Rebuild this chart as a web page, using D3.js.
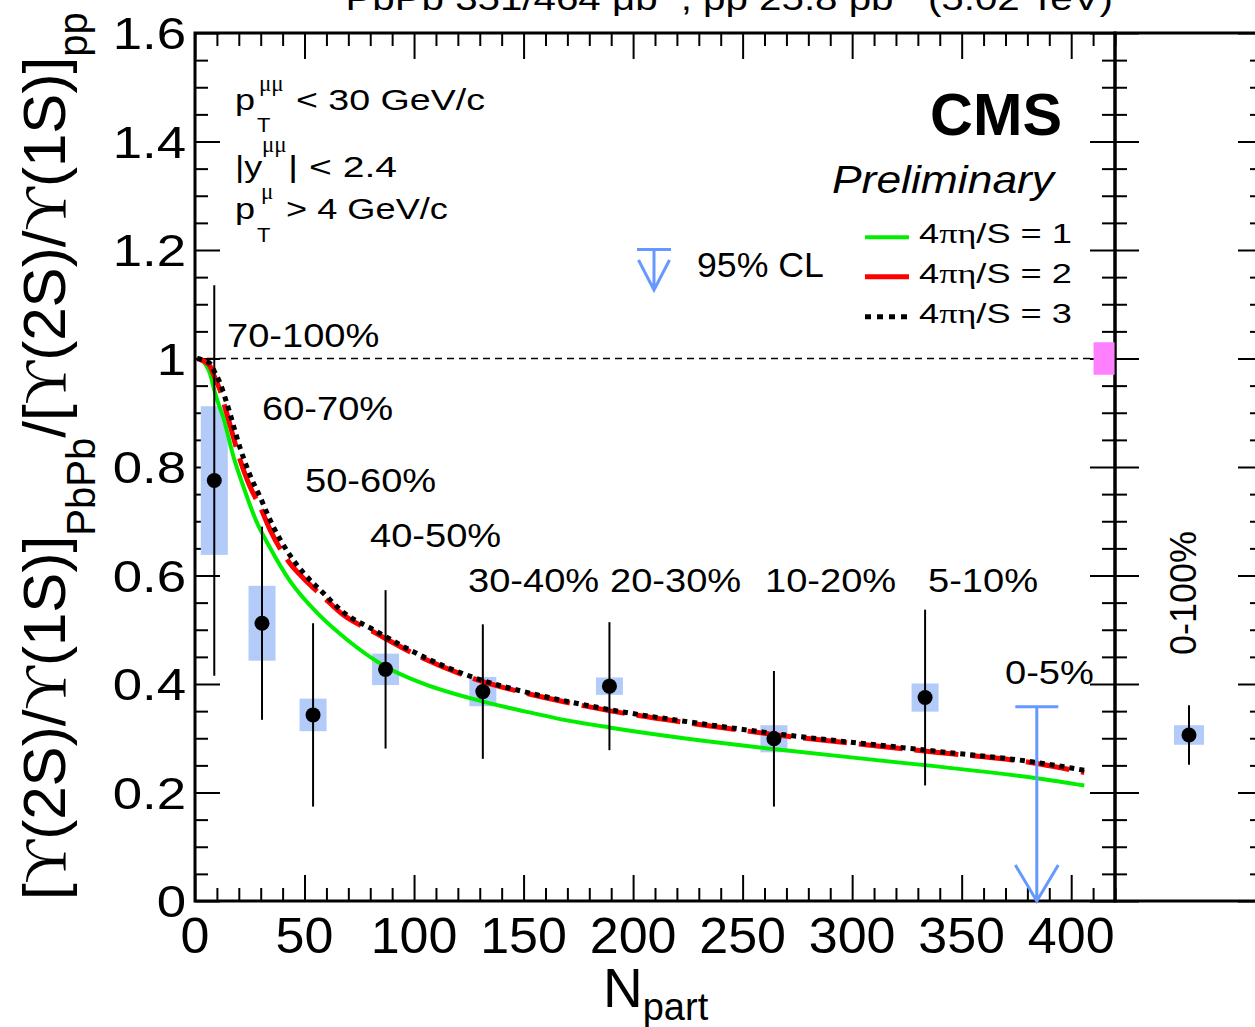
<!DOCTYPE html>
<html>
<head>
<meta charset="utf-8">
<script src="https://cdn.jsdelivr.net/npm/d3@7"></script>
<style>
  html, body { margin: 0; padding: 0; background: #fff; }
  svg { display: block; }
</style>
</head>
<body>
<svg id="chart" width="1255" height="1027"></svg>
<script>
// ---------------- data ----------------
// centrality classes and mean number of participants
const centralityBins = ["70-100%", "60-70%", "50-60%", "40-50%", "30-40%", "20-30%", "10-20%", "5-10%"];
const npart         = [8.8, 30.6, 53.9, 87.0, 131.4, 189.2, 264.3, 333.3];
const doubleRatio   = [0.775, 0.512, 0.343, 0.427, 0.386, 0.396, 0.299, 0.375];
const statErr       = [0.360, 0.178, 0.169, 0.146, 0.124, 0.118, 0.125, 0.162];
const systErr       = [0.137, 0.069, 0.030, 0.029, 0.027, 0.016, 0.025, 0.026];

// most central bin: 95% CL upper limit only
const limitBin    = "0-5%";
const limitNpart  = 384.3;
const limitValue  = 0.358;

// centrality-integrated result
const integratedBin   = "0-100%";
const integratedRatio = 0.306;
const integratedStat  = 0.055;
const integratedSyst  = 0.018;

// global pp uncertainty drawn at unity
const ppGlobalNpart = 415;
const ppGlobalUnc   = 0.03;

// hydrodynamic model curves, [Npart, ratio]
const modelEtaS1 = [[1,1.0],[3,0.997],[5,0.988],[7,0.97],[8.4,0.948],[10,0.925],[13,0.89],[17.5,0.82],[22,0.765],[28,0.70],[34,0.653],[43,0.592],[56,0.53],[69,0.483],[87,0.432],[104,0.401],[132,0.367],[150,0.350],[171,0.332],[189,0.320],[231,0.296],[264,0.280],[334,0.250],[385,0.226],[406,0.213]];
const modelEtaS2 = [[1,1.0],[3,0.997],[5,0.993],[7,0.985],[9,0.965],[11.4,0.942],[14.5,0.899],[20.6,0.813],[25.1,0.764],[29.7,0.727],[34.3,0.684],[43.4,0.622],[49.5,0.595],[58.7,0.56],[67.8,0.527],[81.5,0.496],[104.4,0.447],[127.2,0.41],[150,0.384],[170,0.366],[189,0.351],[231,0.325],[264,0.307],[334,0.276],[385,0.253],[406,0.237]];
const modelEtaS3 = [[1,1.0],[3,0.998],[5,0.995],[7,0.99],[9,0.975],[11.4,0.955],[14.5,0.918],[20.6,0.835],[25.1,0.785],[29.7,0.745],[34.3,0.702],[43.4,0.637],[49.5,0.605],[58.7,0.567],[67.8,0.532],[81.5,0.5],[104.4,0.45],[127.2,0.412],[150,0.386],[170,0.368],[189,0.353],[231,0.327],[264,0.309],[334,0.278],[385,0.255],[406,0.241]];
const modelLabels = ["1", "2", "3"];

// axis ticks
const xTickValues = [0, 50, 100, 150, 200, 250, 300, 350, 400];
const xTickLabels = ["0", "50", "100", "150", "200", "250", "300", "350", "400"];
const yTickValues = [0, 0.2, 0.4, 0.6, 0.8, 1.0, 1.2, 1.4, 1.6];
const yTickLabels = ["0", "0.2", "0.4", "0.6", "0.8", "1", "1.2", "1.4", "1.6"];

// ---------------- layout ----------------
const frame  = { left: 195, right: 1115, top: 33, bottom: 901 };
const panel2 = { left: 1115, right: 1263 };
const centralityLabelPos = [[227,347],[262,420],[305,492],[370,547],[468,592],[610,592],[765,592],[928,592]];
const limitLabelPos = [1005, 684];

const SANS  = "'Liberation Sans', Arimo, Helvetica, Arial, sans-serif";
const SERIF = "'Liberation Serif', 'DejaVu Serif', 'Times New Roman', serif";
const BOX_FILL = "#b3cbf9";
const LIMIT_BLUE = "#6699ff";

const svg = d3.select("#chart");

const x  = d3.scaleLinear().domain([0, 420]).range([frame.left, frame.right]);
const y  = d3.scaleLinear().domain([0, 1.6]).range([frame.bottom, frame.top]);
const xr = d3.scaleLinear().domain([0, 1]).range([panel2.left, panel2.right]);

// Text helper: builds a text element at (x0,y0), optionally rotated,
// and stretches it along its direction either by a factor or to a width.
function addText(parent, x0, y0, build, o) {
  const g = parent.append("g")
    .attr("transform", `translate(${x0},${y0})` + (o.rotate ? ` rotate(${o.rotate})` : ""));
  const t = g.append("text")
    .attr("text-anchor", o.anchor || "start")
    .attr("font-family", o.family || SANS)
    .attr("font-size", o.size)
    .attr("font-weight", o.weight || "normal")
    .attr("font-style", o.style || "normal")
    .attr("fill", "#000");
  if (typeof build === "string") t.text(build); else build(t);
  if (o.width) {
    const w = t.node().getBBox().width;
    t.attr("transform", `scale(${o.width / w},1)`);
  } else if (o.sx) {
    t.attr("transform", `scale(${o.sx},1)`);
  }
  return g;
}

// ---------------- ticks ----------------
const xMinor = d3.range(0, 421, 10).filter(v => v % 50 !== 0);
const yMinor = d3.range(0, 33).filter(i => i % 4 !== 0).map(i => +(i * 0.05).toFixed(2));

function tickGroup(axis, tx, ty) {
  const g = svg.append("g").attr("transform", `translate(${tx},${ty})`).call(axis);
  g.select(".domain").remove();
  g.selectAll(".tick line").attr("stroke", "#000").attr("stroke-width", 2);
  g.selectAll(".tick text").remove();
  return g;
}
// bottom and top of the Npart panel (ticks point inwards)
tickGroup(d3.axisTop(x).tickValues(xMinor).tickSize(13), 0, frame.bottom);
tickGroup(d3.axisTop(x).tickValues(xTickValues).tickSize(26), 0, frame.bottom);
tickGroup(d3.axisBottom(x).tickValues(xMinor).tickSize(13), 0, frame.top);
tickGroup(d3.axisBottom(x).tickValues(xTickValues).tickSize(26), 0, frame.top);
// left and right of the Npart panel
tickGroup(d3.axisRight(y).tickValues(yMinor).tickSize(13), frame.left, 0);
tickGroup(d3.axisRight(y).tickValues(yTickValues).tickSize(25), frame.left, 0);
tickGroup(d3.axisLeft(y).tickValues(yMinor).tickSize(13), frame.right, 0);
tickGroup(d3.axisLeft(y).tickValues(yTickValues).tickSize(25), frame.right, 0);
// integrated panel
tickGroup(d3.axisRight(y).tickValues(yMinor).tickSize(12), panel2.left, 0);
tickGroup(d3.axisRight(y).tickValues(yTickValues).tickSize(24), panel2.left, 0);
tickGroup(d3.axisLeft(y).tickValues(yMinor).tickSize(13), panel2.right, 0);
tickGroup(d3.axisLeft(y).tickValues(yTickValues).tickSize(25), panel2.right, 0);

// frames
svg.append("rect")
  .attr("x", frame.left).attr("y", frame.top)
  .attr("width", frame.right - frame.left).attr("height", frame.bottom - frame.top)
  .attr("fill", "none").attr("stroke", "#000").attr("stroke-width", 3);
svg.append("rect")
  .attr("x", panel2.left).attr("y", frame.top)
  .attr("width", panel2.right - panel2.left).attr("height", frame.bottom - frame.top)
  .attr("fill", "none").attr("stroke", "#000").attr("stroke-width", 3);

// tick labels
yTickValues.forEach((v, i) => {
  addText(svg, 186, y(v) + 16, yTickLabels[i], { size: 44, anchor: "end", sx: 1.2 });
});
xTickValues.forEach((v, i) => {
  addText(svg, x(v), 953, xTickLabels[i], { size: 50, anchor: "middle", sx: 1.04 });
});

// axis titles
addText(svg, 603, 1007, t => {
  t.append("tspan").text("N");
  t.append("tspan").attr("font-size", 38).attr("dy", 13).text("part");
}, { size: 55 });

addText(svg, 65, 900, t => {
  const seg = (txt, opt = {}) => {
    const s = t.append("tspan").text(txt);
    if (opt.serif) s.attr("font-family", SERIF);
    if (opt.size) s.attr("font-size", opt.size);
    if (opt.dy) s.attr("dy", opt.dy);
    return s;
  };
  seg("["); seg("ϒ", { serif: true }); seg("(2S)/"); seg("ϒ", { serif: true }); seg("(1S)]");
  seg("PbPb", { size: 40, dy: 30 });
  seg("/[", { dy: -30 }); seg("ϒ", { serif: true }); seg("(2S)/"); seg("ϒ", { serif: true }); seg("(1S)]");
  seg("pp", { size: 40, dy: 22 });
}, { size: 60, rotate: -90, width: 888 });

// top caption (runs above the frame)
addText(svg, 1113, 10, t => {
  t.append("tspan").text("PbPb 351/464 μb");
  t.append("tspan").attr("font-size", 22).attr("dy", -14).text("-1");
  t.append("tspan").attr("dy", 14).text(", pp 25.8 pb");
  t.append("tspan").attr("font-size", 22).attr("dy", -14).text("-1");
  t.append("tspan").attr("dy", 14).text(" (5.02 TeV)");
}, { size: 34, anchor: "end", width: 768 });

// ---------------- reference line at unity ----------------
svg.append("line")
  .attr("x1", x(0)).attr("x2", x(420)).attr("y1", y(1)).attr("y2", y(1))
  .attr("stroke", "#000").attr("stroke-width", 1.5).attr("stroke-dasharray", "7,5");

// global pp uncertainty
svg.append("rect")
  .attr("x", x(ppGlobalNpart) - 10.5).attr("width", 21)
  .attr("y", y(1 + ppGlobalUnc)).attr("height", y(1 - ppGlobalUnc) - y(1 + ppGlobalUnc))
  .attr("fill", "#ff80ff");

// ---------------- systematic boxes ----------------
const points = npart.map((n, i) => ({ n, v: doubleRatio[i], stat: statErr[i], syst: systErr[i] }));

svg.append("g").selectAll("rect").data(points).join("rect")
  .attr("x", d => x(d.n) - 13.5).attr("width", 27)
  .attr("y", d => y(d.v + d.syst)).attr("height", d => y(d.v - d.syst) - y(d.v + d.syst))
  .attr("fill", BOX_FILL);

svg.append("rect")
  .attr("x", xr(0.5) - 15).attr("width", 30)
  .attr("y", y(integratedRatio + integratedSyst))
  .attr("height", y(integratedRatio - integratedSyst) - y(integratedRatio + integratedSyst))
  .attr("fill", BOX_FILL);

// ---------------- model curves ----------------
const line = d3.line().x(d => x(d[0])).y(d => y(d[1])).curve(d3.curveMonotoneX);
svg.append("path").datum(modelEtaS1).attr("d", line)
  .attr("fill", "none").attr("stroke", "#00ee00").attr("stroke-width", 4);
svg.append("path").datum(modelEtaS2).attr("d", line)
  .attr("fill", "none").attr("stroke", "#ff0000").attr("stroke-width", 5)
  .attr("stroke-dasharray", "44,12");
svg.append("path").datum(modelEtaS3).attr("d", line)
  .attr("fill", "none").attr("stroke", "#000").attr("stroke-width", 5)
  .attr("stroke-dasharray", "5,5");

// ---------------- statistical error bars and markers ----------------
svg.append("g").selectAll("line").data(points).join("line")
  .attr("x1", d => x(d.n)).attr("x2", d => x(d.n))
  .attr("y1", d => y(d.v + d.stat)).attr("y2", d => y(d.v - d.stat))
  .attr("stroke", "#000").attr("stroke-width", 2);
svg.append("g").selectAll("circle").data(points).join("circle")
  .attr("cx", d => x(d.n)).attr("cy", d => y(d.v)).attr("r", 7.5).attr("fill", "#000");

svg.append("line")
  .attr("x1", xr(0.5)).attr("x2", xr(0.5))
  .attr("y1", y(integratedRatio + integratedStat)).attr("y2", y(integratedRatio - integratedStat))
  .attr("stroke", "#000").attr("stroke-width", 2);
svg.append("circle").attr("cx", xr(0.5)).attr("cy", y(integratedRatio)).attr("r", 7.5).attr("fill", "#000");

// upper limit arrow for the most central bin
function limitArrow(cx, yTop, yTip, halfCap, headH, headW) {
  return `M${cx - halfCap},${yTop}H${cx + halfCap}` +
         `M${cx},${yTop}V${yTip}` +
         `M${cx - headW},${yTip - headH}L${cx},${yTip}L${cx + headW},${yTip - headH}`;
}
svg.append("path")
  .attr("d", limitArrow(x(limitNpart), y(limitValue), y(0), 21.5, 36, 21.5))
  .attr("fill", "none").attr("stroke", LIMIT_BLUE).attr("stroke-width", 3);

// ---------------- centrality labels ----------------
centralityBins.forEach((c, i) => {
  addText(svg, centralityLabelPos[i][0], centralityLabelPos[i][1], c, { size: 34, sx: 1.12 });
});
addText(svg, limitLabelPos[0], limitLabelPos[1], limitBin, { size: 34, sx: 1.12 });
addText(svg, 1196, 655, integratedBin, { size: 36, rotate: -90 });

// ---------------- kinematic cuts ----------------
addText(svg, 235, 110, "p", { size: 30, sx: 1.2 });
addText(svg, 259, 91, "μμ", { size: 23, family: SERIF });
addText(svg, 257, 132, "T", { size: 20, sx: 1.1 });
addText(svg, 296, 110, "< 30 GeV/c", { size: 30, width: 189 });

addText(svg, 235, 176.7, "|y", { size: 30, sx: 1.2 });
addText(svg, 262, 152, "μμ", { size: 23, family: SERIF });
addText(svg, 288, 176.7, "| < 2.4", { size: 30, width: 109 });

addText(svg, 235, 219.3, "p", { size: 30, sx: 1.2 });
addText(svg, 261, 199, "μ", { size: 23, family: SERIF });
addText(svg, 257, 242, "T", { size: 20, sx: 1.1 });
addText(svg, 286, 219.3, "> 4 GeV/c", { size: 30, width: 162 });

// ---------------- CMS label ----------------
addText(svg, 1062, 135, "CMS", { size: 60, weight: "bold", anchor: "end", width: 132 });
addText(svg, 832, 193, "Preliminary", { size: 39, style: "italic", width: 225 });

// ---------------- legend ----------------
svg.append("path")
  .attr("d", limitArrow(654, 249.5, 290, 17, 30, 15.5))
  .attr("fill", "none").attr("stroke", LIMIT_BLUE).attr("stroke-width", 3);
addText(svg, 697, 276.7, "95% CL", { size: 35, width: 127 });

const legendStyles = [
  { stroke: "#00ee00", width: 4, dash: null },
  { stroke: "#ff0000", width: 5, dash: null },
  { stroke: "#000", width: 5, dash: "6,6" }
];
const legendLineY = [237.3, 276.7, 316.7];
const legendTextY = [243.3, 283.3, 323.3];
modelLabels.forEach((lab, i) => {
  const s = legendStyles[i];
  svg.append("line")
    .attr("x1", 865).attr("x2", 909).attr("y1", legendLineY[i]).attr("y2", legendLineY[i])
    .attr("stroke", s.stroke).attr("stroke-width", s.width)
    .attr("stroke-dasharray", s.dash);
  addText(svg, 919, legendTextY[i], t => {
    t.append("tspan").text("4");
    t.append("tspan").attr("font-family", SERIF).text("πη");
    t.append("tspan").text("/S = " + lab);
  }, { size: 28, width: 153 });
});
</script>
</body>
</html>
